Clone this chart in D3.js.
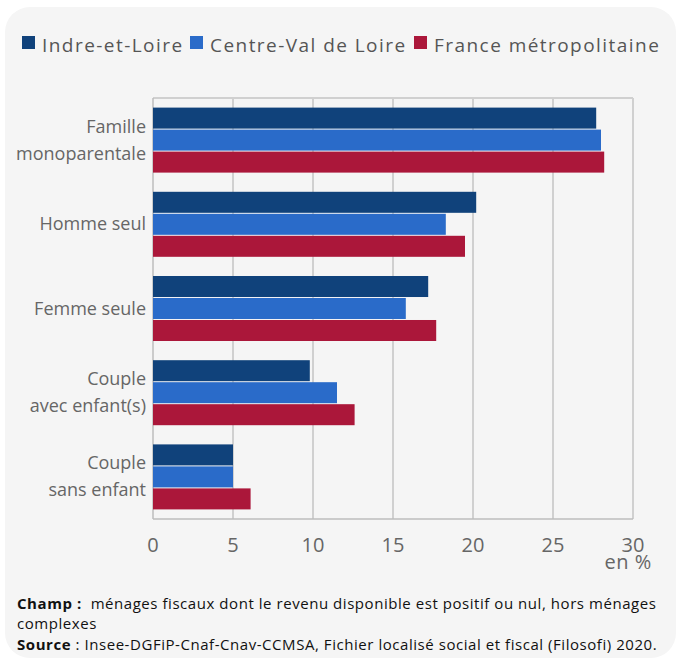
<!DOCTYPE html>
<html lang="fr">
<head>
<meta charset="utf-8">
<title>Ménages par type</title>
<script src="https://cdn.jsdelivr.net/npm/d3@7"></script>
<style>
  html, body { margin: 0; padding: 0; background: #fff; }
  svg { display: block; font-family: "Open Sans", "Noto Sans", sans-serif; }
</style>
</head>
<body>
<script>
// data
var categories = ["Famille\nmonoparentale", "Homme seul", "Femme seule", "Couple\navec enfant(s)", "Couple\nsans enfant"];
var series = ["Indre-et-Loire", "Centre-Val de Loire", "France métropolitaine"];
var indreEtLoire = [27.7, 20.2, 17.2, 9.8, 5.0];
var centreValDeLoire = [28.0, 18.3, 15.8, 11.5, 5.0];
var franceMetro = [28.2, 19.5, 17.7, 12.6, 6.1];
var xTicks = [0, 5, 10, 15, 20, 25, 30];
var colors = ["#10427b", "#2a6bc9", "#ab173a"];

var values = [indreEtLoire, centreValDeLoire, franceMetro];

var width = 680, height = 661;
var svg = d3.select("body").append("svg")
    .attr("width", width)
    .attr("height", height);

// card
svg.append("rect")
    .attr("x", 5).attr("y", 7)
    .attr("width", 671).attr("height", 651)
    .attr("rx", 25)
    .attr("fill", "#f5f5f5");

var pLeft = 153, pRight = 633, pTop = 98, pBottom = 519;

var x = d3.scaleLinear().domain([0, 30]).range([pLeft, pRight]);
var y = d3.scaleBand().domain(categories).range([pTop, pBottom])
    .paddingInner(0.228).paddingOuter(0.114);
var ys = d3.scaleBand().domain(series).range([0, y.bandwidth()]).paddingInner(0.045);

// grid
svg.append("g").selectAll("line")
    .data(xTicks.slice(1))
    .enter().append("line")
    .attr("x1", function(d){ return x(d); })
    .attr("x2", function(d){ return x(d); })
    .attr("y1", pTop).attr("y2", pBottom)
    .attr("stroke", "#d0d0d0")
    .attr("stroke-width", 2);

// frame
svg.append("line").attr("x1", pLeft).attr("x2", pRight).attr("y1", pTop).attr("y2", pTop)
    .attr("stroke", "#d0d0d0").attr("stroke-width", 2);
svg.append("line").attr("x1", pLeft).attr("x2", pRight).attr("y1", pBottom).attr("y2", pBottom)
    .attr("stroke", "#bdbdbd").attr("stroke-width", 1.5);
svg.append("line").attr("x1", pLeft).attr("x2", pLeft).attr("y1", pTop).attr("y2", pBottom)
    .attr("stroke", "#bdbdbd").attr("stroke-width", 1.5);

// bars
var rows = [];
categories.forEach(function(c, i){
  series.forEach(function(s, j){
    rows.push({cat: c, ser: s, v: values[j][i], j: j});
  });
});

svg.append("g").selectAll("rect")
    .data(rows)
    .enter().append("rect")
    .attr("x", x(0))
    .attr("y", function(d){ return y(d.cat) + ys(d.ser); })
    .attr("width", function(d){ return x(d.v) - x(0); })
    .attr("height", ys.bandwidth())
    .attr("fill", function(d){ return colors[d.j]; });

// x axis labels
svg.append("g").selectAll("text")
    .data(xTicks)
    .enter().append("text")
    .attr("x", function(d){ return x(d); })
    .attr("y", 552)
    .attr("text-anchor", "middle")
    .attr("font-size", 20)
    .attr("fill", "#666")
    .text(function(d){ return d; });

svg.append("text")
    .attr("x", 652).attr("y", 569)
    .attr("text-anchor", "end")
    .attr("font-size", 20)
    .attr("letter-spacing", 0.6)
    .attr("fill", "#666")
    .text("en %");

// category labels
var catG = svg.append("g").selectAll("text")
    .data(categories)
    .enter().append("text")
    .attr("text-anchor", "end")
    .attr("font-size", 18)
    .attr("fill", "#666");

catG.each(function(d){
  var lines = d.split("\n");
  var cy = y(d) + y.bandwidth() / 2;
  var t = d3.select(this);
  lines.forEach(function(l, k){
    t.append("tspan")
      .attr("x", 146)
      .attr("y", cy + 6 + (k - (lines.length - 1) / 2) * 27)
      .text(l);
  });
});

// legend
var legendX = [22, 190, 414];
var leg = svg.append("g").selectAll("g")
    .data(series)
    .enter().append("g");
leg.append("rect")
    .attr("x", function(d, i){ return legendX[i]; })
    .attr("y", 36)
    .attr("width", 13).attr("height", 13)
    .attr("fill", function(d, i){ return colors[i]; });
leg.append("text")
    .attr("x", function(d, i){ return legendX[i] + 20; })
    .attr("y", 52)
    .attr("font-size", 19)
    .attr("letter-spacing", 1.45)
    .attr("fill", "#555")
    .text(function(d){ return d; });

// footer
var foot = svg.append("g").attr("font-size", 15).attr("letter-spacing", 0.55).attr("fill", "#111");
var t1 = foot.append("text").attr("x", 17).attr("y", 609);
t1.append("tspan").attr("font-weight", "bold").text("Champ :");
t1.append("tspan").text("\u00a0 ménages fiscaux dont le revenu disponible est positif ou nul, hors ménages");
foot.append("text").attr("x", 17).attr("y", 629).text("complexes");
var t3 = foot.append("text").attr("x", 17).attr("y", 650);
t3.append("tspan").attr("font-weight", "bold").text("Source");
t3.append("tspan").text(" : Insee-DGFiP-Cnaf-Cnav-CCMSA, Fichier localisé social et fiscal (Filosofi) 2020.");
</script>
</body>
</html>
